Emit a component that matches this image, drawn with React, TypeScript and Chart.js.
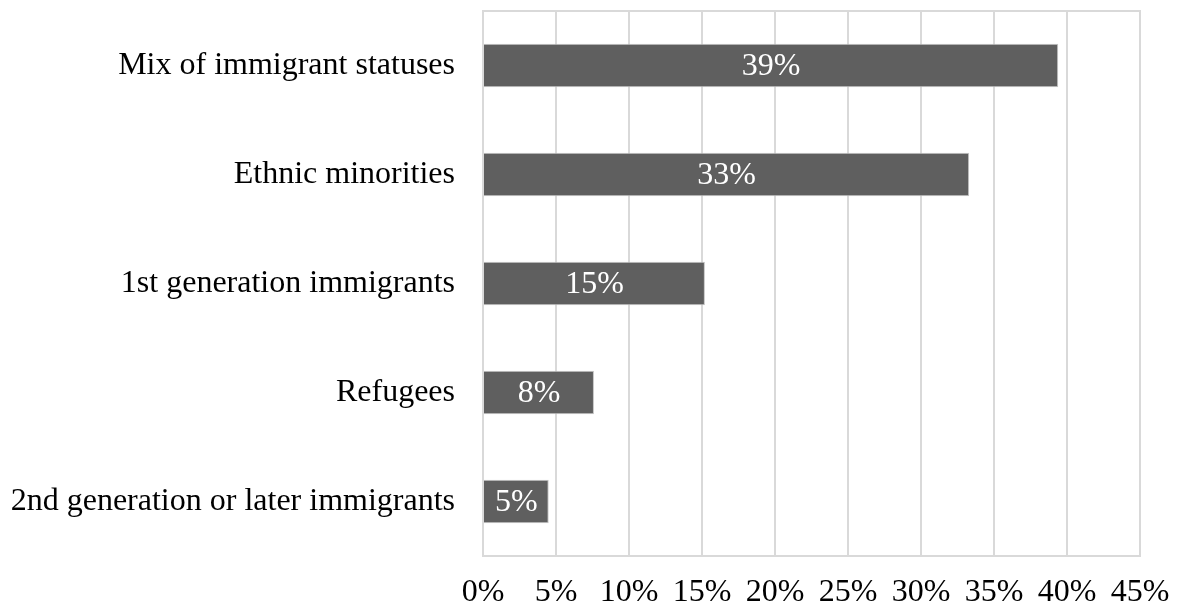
import React, { useEffect, useRef } from "react";
import { Chart, registerables } from "chart.js";

Chart.register(...registerables);

const categories = [
  "Mix of immigrant statuses",
  "Ethnic minorities",
  "1st generation immigrants",
  "Refugees",
  "2nd generation or later immigrants",
];
const values = [39.4, 33.3, 15.2, 7.6, 4.5];
const valueLabels = ["39%", "33%", "15%", "8%", "5%"];
const xMax = 45;
const xStep = 5;

const FONT = "'Liberation Serif', 'Times New Roman', serif";
const FONT_SIZE = 32;
const GRID = "#d9d9d9";

const boxPlugin = {
  id: "boxPlugin",
  beforeDatasetsDraw(chart: any) {
    const { ctx, chartArea } = chart;
    ctx.save();
    ctx.strokeStyle = GRID;
    ctx.lineWidth = 2;
    ctx.beginPath();
    ctx.moveTo(chartArea.left - 1, chartArea.top);
    ctx.lineTo(chartArea.right + 1, chartArea.top);
    ctx.moveTo(chartArea.left - 1, chartArea.bottom);
    ctx.lineTo(chartArea.right + 1, chartArea.bottom);
    ctx.stroke();
    ctx.restore();
  },
};

const labelPlugin = {
  id: "labelPlugin",
  afterDatasetsDraw(chart: any) {
    const { ctx } = chart;
    const meta = chart.getDatasetMeta(0);
    ctx.save();
    ctx.fillStyle = "#ffffff";
    ctx.font = `${FONT_SIZE}px ${FONT}`;
    ctx.textAlign = "center";
    ctx.textBaseline = "middle";
    meta.data.forEach((bar: any, i: number) => {
      const x = (bar.base + bar.x) / 2;
      ctx.fillText(valueLabels[i], x, bar.y + 1);
    });
    ctx.restore();
  },
};

export default function App() {
  const ref = useRef<HTMLCanvasElement | null>(null);
  useEffect(() => {
    if (!ref.current) return;
    const chart = new Chart(ref.current, {
      type: "bar",
      data: {
        labels: categories,
        datasets: [
          {
            data: values,
            backgroundColor: "#5f5f5f",
            borderColor: "#c4c4c4",
            borderWidth: 1,
            barPercentage: 0.4,
            categoryPercentage: 1,
          },
        ],
      },
      options: {
        indexAxis: "y",
        responsive: false,
        animation: false,
        layout: { padding: { top: 11, right: 38, left: 0, bottom: 0 } },
        plugins: { legend: { display: false }, tooltip: { enabled: false } },
        scales: {
          x: {
            min: 0,
            max: xMax,
            ticks: {
              stepSize: xStep,
              callback: (v: any) => `${v}%`,
              font: { family: FONT, size: FONT_SIZE },
              color: "#000",
              padding: 17,
              maxRotation: 0,
              autoSkip: false,
            },
            grid: { color: GRID, lineWidth: 2, drawTicks: false },
            border: { display: false },
            afterFit: (s: any) => {
              s.height = 53;
              s.paddingLeft = 0;
              s.paddingRight = 0;
            },
          },
          y: {
            ticks: {
              font: { family: FONT, size: FONT_SIZE },
              color: "#000",
              padding: 28,
            },
            grid: { display: false, drawTicks: false },
            border: { display: false },
            afterFit: (s: any) => {
              s.width = 483;
              s.paddingTop = 0;
              s.paddingBottom = 0;
            },
          },
        },
      },
      plugins: [boxPlugin, labelPlugin],
    });
    return () => chart.destroy();
  }, []);
  return (
    <div style={{ position: "absolute", left: 0, top: 0, width: 1178, height: 609, background: "#fff" }}>
      <canvas ref={ref} width={1178} height={609} />
    </div>
  );
}
